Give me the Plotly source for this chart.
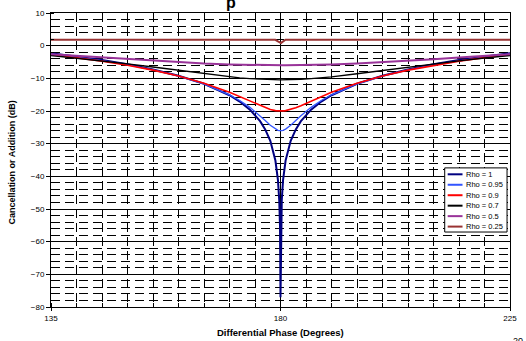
import plotly.graph_objects as go

# Differential phase samples (degrees), denser near the 180-degree null
phase = [135, 140, 145, 150, 155, 160, 165, 170, 172, 174, 176, 177, 178, 179,
         179.5, 179.75, 179.9, 180, 180.1, 180.25, 180.5, 181, 182, 183, 184,
         186, 188, 190, 195, 200, 205, 210, 215, 220, 225]

# Cancellation / addition (dB) for each amplitude ratio
db_rho_100 = [-2.32, -3.30, -4.42, -5.72, -7.27, -9.19, -11.67, -15.17, -17.11,
              -19.60, -23.12, -25.62, -29.14, -35.16, -41.18, -47.20, -55.16,
              -77.0,
              -55.16, -47.20, -41.18, -35.16, -29.14, -25.62, -23.12, -19.60,
              -17.11, -15.17, -11.67, -9.19, -7.27, -5.72, -4.42, -3.30, -2.32]
db_rho_095 = [-2.53, -3.50, -4.61, -5.90, -7.43, -9.31, -11.72, -15.04, -16.78,
              -18.89, -21.47, -22.92, -24.37, -25.54, -25.90, -25.99, -26.02,
              -26.02,
              -26.02, -25.99, -25.90, -25.54, -24.37, -22.92, -21.47, -18.89,
              -16.78, -15.04, -11.72, -9.31, -7.43, -5.90, -4.61, -3.50, -2.53]
db_rho_090 = [-2.70, -3.65, -4.74, -6.00, -7.48, -9.26, -11.47, -14.28, -15.60,
              -17.02, -18.42, -19.04, -19.55, -19.88, -19.97, -19.99, -20.00,
              -20.00,
              -20.00, -19.99, -19.97, -19.88, -19.55, -19.04, -18.42, -17.02,
              -15.60, -14.28, -11.47, -9.26, -7.48, -6.00, -4.74, -3.65, -2.70]
db_rho_070 = [-3.01, -3.79, -4.64, -5.57, -6.55, -7.58, -8.61, -9.54, -9.85,
              -10.10, -10.30, -10.37, -10.42, -10.45, -10.46, -10.46, -10.46,
              -10.46,
              -10.46, -10.46, -10.46, -10.45, -10.42, -10.37, -10.30, -10.10,
              -9.85, -9.54, -8.61, -7.58, -6.55, -5.57, -4.64, -3.79, -3.01]
db_rho_050 = [-2.65, -3.15, -3.66, -4.16, -4.64, -5.08, -5.47, -5.76, -5.85,
              -5.93, -5.98, -6.00, -6.01, -6.02, -6.02, -6.02, -6.02,
              -6.02,
              -6.02, -6.02, -6.02, -6.02, -6.01, -6.00, -5.98, -5.93,
              -5.85, -5.76, -5.47, -5.08, -4.64, -4.16, -3.66, -3.15, -2.65]
db_rho_025 = [1.8, 1.8, 1.8, 1.8, 1.8, 1.8, 1.8, 1.8, 1.8,
              1.8, 1.8, 1.8, 1.8, 1.8, 1.3, 1.0, 0.8,
              0.7,
              0.8, 1.0, 1.3, 1.8, 1.8, 1.8, 1.8, 1.8,
              1.8, 1.8, 1.8, 1.8, 1.8, 1.8, 1.8, 1.8, 1.8]

series_names = ["Rho = 1", "Rho = 0.95", "Rho = 0.9", "Rho = 0.7", "Rho = 0.5", "Rho = 0.25"]
series_values = [db_rho_100, db_rho_095, db_rho_090, db_rho_070, db_rho_050, db_rho_025]
series_colors = ["#000080", "#3355FF", "#FF0000", "#000000", "#993399", "#993333"]
series_widths = [2, 1.3, 1.6, 1.4, 2, 2]

x_title = "Differential Phase (Degrees)"
y_title = "Cancellation or Addition (dB)"
page_number = "20"
chart_heading = "p"

FONT = "Liberation Sans, Arial, sans-serif"
W, H = 526, 341
PL, PR, PT, PB = 51, 515, 9, 307


def px_x(p):
    return (p - PL) / (PR - PL)


def px_y(p):
    return (PB - p) / (PB - PT)


fig = go.Figure()
for name, vals, color, width in zip(series_names, series_values, series_colors, series_widths):
    fig.add_trace(go.Scatter(x=phase, y=vals, mode="lines", name=name,
                             line=dict(color=color, width=width), showlegend=False))

dash = "9px,5px"
fig.update_xaxes(
    range=[135, 225], tick0=135, dtick=45,
    showgrid=True, gridcolor="#000", gridwidth=1,
    showline=True, linecolor="#000", linewidth=1, mirror=True,
    ticks="outside", ticklen=3, tickcolor="#000",
    tickfont=dict(family=FONT, size=8, color="#000"),
    zeroline=False,
    minor=dict(tick0=135, dtick=5, showgrid=True, gridcolor="#000", gridwidth=1,
               griddash=dash, ticks="inside", ticklen=4, tickcolor="#000"),
)
fig.update_yaxes(
    range=[-80, 10], tick0=0, dtick=10,
    showgrid=True, gridcolor="#000", gridwidth=1,
    showline=True, linecolor="#000", linewidth=1, mirror=True,
    ticks="outside", ticklen=4, tickcolor="#000",
    tickfont=dict(family=FONT, size=8, color="#000"),
    zeroline=False,
    minor=dict(tick0=0, dtick=2, showgrid=True, gridcolor="#000", gridwidth=1,
               griddash=dash, ticks="inside", ticklen=3, tickcolor="#000"),
)

annotations = [
    dict(text="<b>" + x_title + "</b>", x=px_x(283), y=px_y(333), xref="paper", yref="paper",
         xanchor="center", yanchor="middle", showarrow=False,
         font=dict(family=FONT, size=9.5, color="#000")),
    dict(text="<b>" + y_title + "</b>", x=px_x(12), y=px_y(160), xref="paper", yref="paper",
         xanchor="center", yanchor="middle", textangle=-90, showarrow=False,
         font=dict(family=FONT, size=9, color="#000")),
    dict(text=page_number, x=px_x(516), y=px_y(334), xref="paper", yref="paper",
         xanchor="left", yanchor="top", showarrow=False,
         font=dict(family=FONT, size=9, color="#000")),
    # heading sits above the page, only its lowest stroke shows
    dict(text="<b>" + chart_heading + "</b>", x=px_x(227), y=px_y(8), xref="paper", yref="paper",
         xanchor="left", yanchor="bottom", showarrow=False, borderpad=0,
         font=dict(family=FONT, size=16, color="#000")),
]

# Legend box drawn in paper coordinates
shapes = []
LX0, LX1, LY0, LY1 = 449, 512, 166, 231
shapes.append(dict(type="rect", xref="paper", yref="paper",
                   x0=px_x(LX0), x1=px_x(LX1), y0=px_y(LY1), y1=px_y(LY0),
                   line=dict(color="#000", width=1), fillcolor="#fff", layer="above"))
row0, row_step = 172.5, 10.6
for i, (name, color) in enumerate(zip(series_names, series_colors)):
    yy = row0 + i * row_step
    shapes.append(dict(type="line", xref="paper", yref="paper",
                       x0=px_x(452), x1=px_x(467), y0=px_y(yy), y1=px_y(yy),
                       line=dict(color=color, width=2), layer="above"))
    annotations.append(dict(text=name, x=px_x(469), y=px_y(yy), xref="paper", yref="paper",
                            xanchor="left", yanchor="middle", showarrow=False,
                            font=dict(family=FONT, size=7.5, color="#000")))

fig.update_layout(
    width=W, height=H,
    margin=dict(l=PL, r=W - PR, t=PT, b=H - PB, pad=0),
    plot_bgcolor="#fff", paper_bgcolor="#fff",
    showlegend=False,
    annotations=annotations, shapes=shapes,
)

fig.write_html("out.html")
